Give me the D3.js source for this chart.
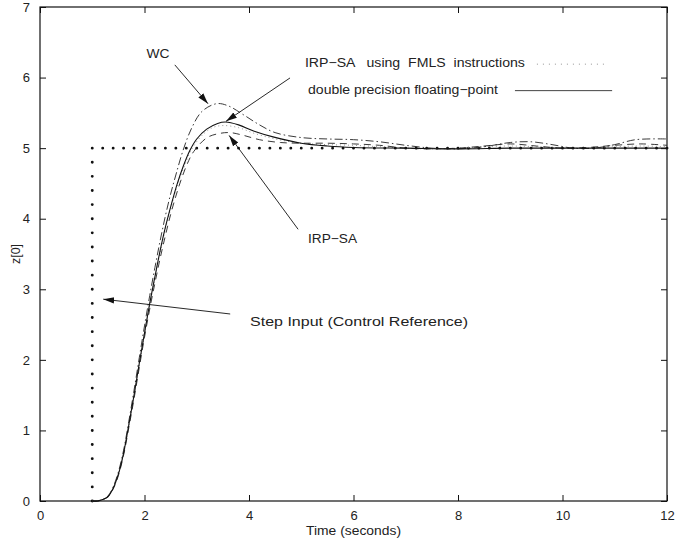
<!DOCTYPE html>
<html lang="en">
<head>
<meta charset="UTF-8">
<title>z[0] step response</title>
<script src="https://d3js.org/d3.v7.min.js"></script>
<style>
  body { margin: 0; background: #fff; font-family: "Liberation Sans", Arial, sans-serif; }
  text { fill: #222; }
</style>
</head>
<body>
<div id="chart"></div>
<script>
// tick values
const xTicks = [0, 2, 4, 6, 8, 10, 12];
const yTicks = [0, 1, 2, 3, 4, 5, 6, 7];

// step input (control reference) corners
const stepTimes = [1, 1, 12];
const stepValues = [0, 5, 5];

// double precision floating-point (solid)
const dpTimes = [1, 1.1, 1.2, 1.3, 1.4, 1.5, 1.6, 1.7, 1.8, 1.9, 2.0, 2.1, 2.2, 2.3, 2.4, 2.52, 2.62, 2.74, 2.87, 3.0, 3.19, 3.4, 3.55, 3.8, 4.1, 4.46, 5.0, 5.5, 6, 7, 8, 9, 10, 11, 12];
const dpValues = [0, 0, 0.02, 0.06, 0.18, 0.38, 0.68, 1.08, 1.5, 1.95, 2.38, 2.8, 3.18, 3.55, 3.88, 4.22, 4.48, 4.74, 4.97, 5.13, 5.27, 5.35, 5.37, 5.33, 5.24, 5.16, 5.07, 5.03, 5.01, 5.0, 4.99, 5.0, 5.0, 5.0, 5.0];

// IRP-SA using FMLS instructions (small dots)
const fmlsTimes = [1, 1.1, 1.2, 1.3, 1.4, 1.5, 1.6, 1.7, 1.8, 1.9, 2.0, 2.1, 2.2, 2.3, 2.4, 2.52, 2.62, 2.74, 2.9, 3.1, 3.3, 3.5, 3.8, 4.1, 4.5, 5.0, 5.5, 6, 6.5, 7, 7.5, 8, 8.5, 9, 9.5, 10, 10.5, 11, 11.5, 12];
const fmlsValues = [0, 0, 0.02, 0.06, 0.18, 0.37, 0.67, 1.07, 1.49, 1.93, 2.36, 2.78, 3.16, 3.52, 3.85, 4.19, 4.45, 4.7, 4.98, 5.18, 5.29, 5.32, 5.29, 5.21, 5.13, 5.07, 5.05, 5.04, 5.02, 5.0, 4.99, 5.0, 5.02, 5.03, 5.02, 5.0, 5.0, 5.02, 5.03, 5.02];

// IRP-SA (dashed)
const irpTimes = [1, 1.1, 1.2, 1.3, 1.4, 1.5, 1.6, 1.7, 1.8, 1.9, 2.0, 2.1, 2.2, 2.3, 2.4, 2.5, 2.6, 2.7, 2.82, 2.94, 3.2, 3.45, 3.64, 3.9, 4.2, 4.6, 5.0, 5.5, 6.0, 6.5, 7.0, 7.5, 8.0, 8.5, 9.0, 9.5, 10, 10.5, 11, 11.5, 12];
const irpValues = [0, 0, 0.02, 0.06, 0.17, 0.36, 0.65, 1.04, 1.45, 1.89, 2.32, 2.72, 3.09, 3.44, 3.76, 4.06, 4.32, 4.55, 4.78, 4.95, 5.15, 5.21, 5.22, 5.18, 5.12, 5.08, 5.07, 5.07, 5.06, 5.04, 5.0, 4.99, 5.0, 5.03, 5.06, 5.03, 5.0, 5.01, 5.04, 5.06, 5.04];

// WC (dash-dot)
const wcTimes = [1, 1.1, 1.2, 1.3, 1.4, 1.5, 1.6, 1.7, 1.8, 1.9, 2.0, 2.1, 2.2, 2.3, 2.4, 2.5, 2.6, 2.73, 2.9, 3.1, 3.38, 3.6, 3.9, 4.2, 4.5, 5.0, 5.5, 6.0, 6.5, 7.0, 7.5, 8.0, 8.5, 9.0, 9.4, 9.8, 10.2, 10.6, 11.0, 11.4, 12];
const wcValues = [0, 0, 0.02, 0.07, 0.2, 0.41, 0.72, 1.13, 1.57, 2.03, 2.48, 2.91, 3.31, 3.69, 4.04, 4.35, 4.62, 4.95, 5.28, 5.52, 5.63, 5.6, 5.47, 5.33, 5.22, 5.15, 5.13, 5.12, 5.09, 5.04, 5.0, 4.99, 5.02, 5.08, 5.09, 5.05, 5.0, 5.0, 5.05, 5.12, 5.13];

// annotations: [text, textX, textY, arrowFromX, arrowFromY, arrowToX, arrowToY, anchor]
const annotations = [
  ["WC", 2.26, 6.28, 2.58, 6.18, 3.215, 5.63, "middle"],
  ["IRP\u2212SA", 5.13, 3.65, 4.94, 3.85, 3.62, 5.18, "start"],
  ["Step Input (Control Reference)", 4.02, 2.48, 3.64, 2.65, 1.21, 2.86, "start"]
];
const dpArrow = [4.785, 5.995, 3.56, 5.38];

// legend entries: [label, textX, textY, lineX1, lineX2, lineY]
const legendItems = [
  ["IRP\u2212SA   using  FMLS  instructions", 5.07, 6.15, 9.51, 10.87, 6.19],
  ["double precision floating\u2212point", 5.13, 5.77, 9.09, 10.95, 5.815]
];

// rendered text widths seen in the figure (px)
const textWidths = {
  "WC": 23,
  "IRP\u2212SA": 49,
  "Step Input (Control Reference)": 218,
  "IRP\u2212SA   using  FMLS  instructions": 220,
  "double precision floating\u2212point": 190,
  "Time (seconds)": 95
};

const width = 694, height = 541;
const margin = { left: 40, right: 27, top: 7, bottom: 40 };

const svg = d3.select("#chart").append("svg")
  .attr("width", width)
  .attr("height", height);

const x = d3.scaleLinear().domain([0, 12]).range([margin.left, width - margin.right]);
const y = d3.scaleLinear().domain([0, 7]).range([height - margin.bottom, margin.top]);

svg.append("defs").append("marker")
  .attr("id", "arrow")
  .attr("viewBox", "0 0 11 10")
  .attr("refX", 11).attr("refY", 5)
  .attr("markerWidth", 11).attr("markerHeight", 10)
  .attr("markerUnits", "userSpaceOnUse")
  .attr("orient", "auto")
  .append("path")
  .attr("d", "M0,1.8L11,5L0,8.2Z")
  .attr("fill", "#111");

// axes with inward ticks on all four sides
const fmt = d3.format("d");
svg.append("g")
  .attr("transform", `translate(0,${y(0)})`)
  .call(d3.axisBottom(x).tickValues(xTicks).tickSize(-6).tickPadding(10).tickFormat(fmt))
  .call(g => g.select(".domain").remove());
svg.append("g")
  .attr("transform", `translate(0,${y(7)})`)
  .call(d3.axisTop(x).tickValues(xTicks).tickSize(-6).tickFormat(""))
  .call(g => g.select(".domain").remove());
svg.append("g")
  .attr("transform", `translate(${x(0)},0)`)
  .call(d3.axisLeft(y).tickValues(yTicks).tickSize(-6).tickPadding(10).tickFormat(fmt))
  .call(g => g.select(".domain").remove());
svg.append("g")
  .attr("transform", `translate(${x(12)},0)`)
  .call(d3.axisRight(y).tickValues(yTicks).tickSize(-6).tickFormat(""))
  .call(g => g.select(".domain").remove());

svg.selectAll(".tick text")
  .style("font-family", "'Liberation Sans', Arial, sans-serif")
  .style("font-size", "13px")
  .attr("fill", "#222");
svg.selectAll(".tick line").attr("stroke", "#111");

svg.append("rect")
  .attr("x", x(0)).attr("y", y(7))
  .attr("width", x(12) - x(0)).attr("height", y(0) - y(7))
  .attr("fill", "none").attr("stroke", "#111").attr("stroke-width", 1.2);

const line = d3.line().curve(d3.curveCatmullRom.alpha(0.5));
const series = (ts, vs) => ts.map((t, i) => [x(t), y(vs[i])]);

// step input: big dots, one every 0.2 in value and in time
const stepV = [[x(stepTimes[0]), y(stepValues[0])], [x(stepTimes[1]), y(stepValues[1])]];
const stepH = [[x(stepTimes[1]), y(stepValues[1])], [x(stepTimes[2]), y(stepValues[2])]];
svg.append("path")
  .attr("d", d3.line()(stepV))
  .attr("fill", "none").attr("stroke", "#111").attr("stroke-width", 2.9)
  .attr("stroke-linecap", "round")
  .attr("stroke-dasharray", `0 ${y(0) - y(0.2)}`);
svg.append("path")
  .attr("d", d3.line()(stepH))
  .attr("fill", "none").attr("stroke", "#111").attr("stroke-width", 2.9)
  .attr("stroke-linecap", "round")
  .attr("stroke-dasharray", `0 ${x(1.2) - x(1)}`);

// response curves
svg.append("path")
  .attr("d", line(series(fmlsTimes, fmlsValues)))
  .attr("fill", "none").attr("stroke", "#888").attr("stroke-width", 0.9)
  .attr("stroke-dasharray", "1 3");
svg.append("path")
  .attr("d", line(series(irpTimes, irpValues)))
  .attr("fill", "none").attr("stroke", "#222").attr("stroke-width", 0.9)
  .attr("stroke-dasharray", "7 5");
svg.append("path")
  .attr("d", line(series(wcTimes, wcValues)))
  .attr("fill", "none").attr("stroke", "#222").attr("stroke-width", 0.9)
  .attr("stroke-dasharray", "8 3 1.5 3");
svg.append("path")
  .attr("d", line(series(dpTimes, dpValues)))
  .attr("fill", "none").attr("stroke", "#111").attr("stroke-width", 1.1);

// annotations with arrows
const textStyle = sel => sel
  .style("font-family", "'Liberation Sans', Arial, sans-serif")
  .style("font-size", "12.5px")
  .attr("fill", "#222")
  .attr("xml:space", "preserve")
  .style("white-space", "pre");

const fitText = sel => {
  const w = textWidths[sel.text()];
  if (w) sel.attr("textLength", w).attr("lengthAdjust", "spacingAndGlyphs");
};

annotations.forEach(a => {
  svg.append("text")
    .attr("x", x(a[1])).attr("y", y(a[2]))
    .attr("text-anchor", a[7])
    .call(textStyle)
    .text(a[0])
    .call(fitText);
  svg.append("line")
    .attr("x1", x(a[3])).attr("y1", y(a[4]))
    .attr("x2", x(a[5])).attr("y2", y(a[6]))
    .attr("stroke", "#111").attr("stroke-width", 0.9)
    .attr("marker-end", "url(#arrow)");
});
svg.append("line")
  .attr("x1", x(dpArrow[0])).attr("y1", y(dpArrow[1]))
  .attr("x2", x(dpArrow[2])).attr("y2", y(dpArrow[3]))
  .attr("stroke", "#111").attr("stroke-width", 0.9)
  .attr("marker-end", "url(#arrow)");

// legend-like labels
legendItems.forEach((d, i) => {
  svg.append("text")
    .attr("x", x(d[1])).attr("y", y(d[2]))
    .call(textStyle)
    .text(d[0])
    .call(fitText);
  const ln = svg.append("line")
    .attr("x1", x(d[3])).attr("x2", x(d[4]))
    .attr("y1", y(d[5])).attr("y2", y(d[5]))
    .attr("fill", "none");
  if (i === 0) {
    ln.attr("stroke", "#888").attr("stroke-width", 0.9).attr("stroke-dasharray", "1 5");
  } else {
    ln.attr("stroke", "#444").attr("stroke-width", 1);
  }
});

// axis titles
svg.append("text")
  .attr("x", x(6)).attr("y", 535)
  .attr("text-anchor", "middle")
  .call(textStyle)
  .text("Time (seconds)")
  .call(fitText);
svg.append("text")
  .attr("transform", `translate(20,${y(3.5)}) rotate(-90)`)
  .attr("text-anchor", "middle")
  .call(textStyle)
  .text("z[0]");
</script>
</body>
</html>
